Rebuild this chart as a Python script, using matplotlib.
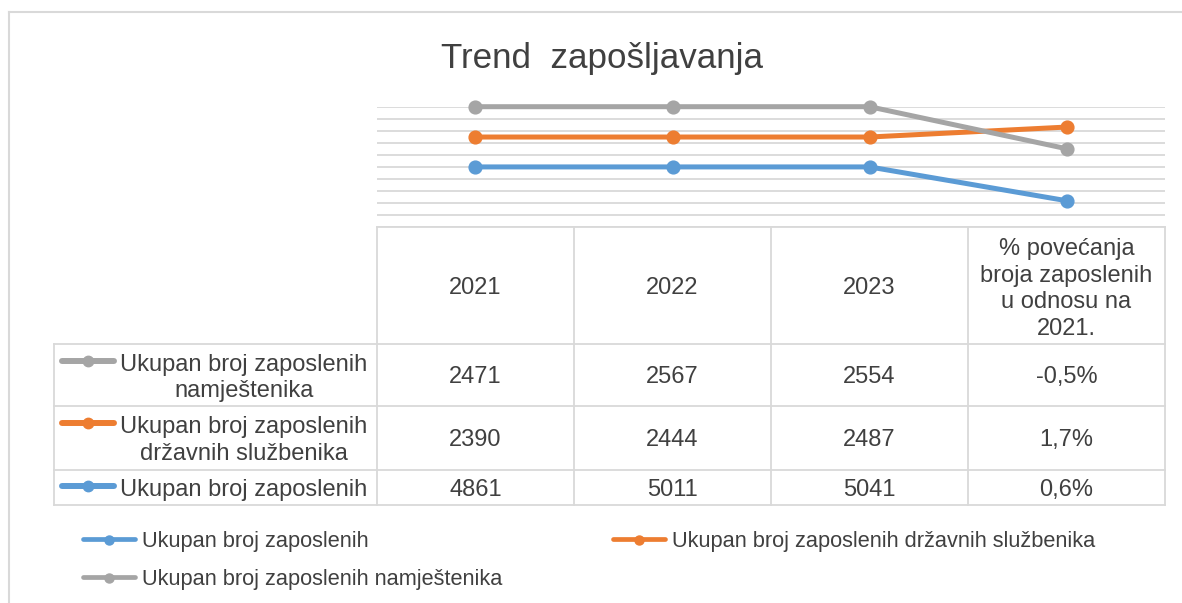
import matplotlib
matplotlib.use('Agg')
import matplotlib.pyplot as plt
import numpy as np

plt.rcParams['font.family'] = ['Liberation Sans', 'DejaVu Sans']

# table data
years = ['2021', '2022', '2023']
namjestenici = [2471, 2567, 2554]
sluzbenici = [2390, 2444, 2487]
ukupno = [4861, 5011, 5041]
pct_namj = -0.5
pct_sluzb = 1.7
pct_ukupno = 0.6

# plotted heights (hidden axis, stacked)
plot_ukupno = [1.38, 1.38, 1.38, 0.6]
plot_sluzb = [0.69, 0.69, 0.69, 1.7]
plot_namj = [0.70, 0.70, 0.70, -0.5]

blue = '#5B9BD5'
orange = '#ED7D31'
gray = '#A5A5A5'
grid_c = '#D9D9D9'
txt_c = '#404040'

W, H = 1182, 603
fig = plt.figure(figsize=(W / 100, H / 100), dpi=100)

# background axes in pixel coords
bg = fig.add_axes([0, 0, 1, 1])
bg.set_xlim(0, W)
bg.set_ylim(H, 0)
bg.axis('off')

# chart border
bg.plot([9, W], [12, 12], color=grid_c, lw=1.5)
bg.plot([9, 9], [12, H], color=grid_c, lw=1.5)

bg.text(602, 68, 'Trend  zapošljavanja', fontsize=25.2, color=txt_c,
        ha='center', va='baseline')

# line chart area
x0, x1 = 377, 1165
y_top, y_bot = 106.7, 226.7
ax = fig.add_axes([x0 / W, (H - y_bot) / H, (x1 - x0) / W, (y_bot - y_top) / H])
ymax = 2.77
ax.set_xlim(-0.5, 3.5)
ax.set_ylim(0, ymax)
ax.set_yticks(np.linspace(0, ymax, 11))
ax.grid(axis='y', color=grid_c, lw=1.3)
ax.set_axisbelow(True)
ax.tick_params(left=False, bottom=False, labelleft=False, labelbottom=False)
for s in ax.spines.values():
    s.set_visible(False)
ax.patch.set_alpha(0)

stack = np.cumsum([plot_ukupno, plot_sluzb, plot_namj], axis=0)
xs = np.arange(4)
for vals, c in zip(stack, [blue, orange, gray]):
    ax.plot(xs, vals, color=c, lw=3.6, marker='o', markersize=9.2,
            solid_capstyle='round', clip_on=False)

# data table
edges = np.linspace(x0, x1, 5)
rows = [227, 344, 406, 470, 505]
tl = 54
lw_t = 1.3
bg.plot([x0, x1], [rows[0], rows[0]], color=grid_c, lw=lw_t)
for y in rows[1:]:
    bg.plot([tl, x1], [y, y], color=grid_c, lw=lw_t)
bg.plot([tl, tl], [rows[1], rows[-1]], color=grid_c, lw=lw_t)
for x in edges:
    bg.plot([x, x], [rows[0], rows[-1]], color=grid_c, lw=lw_t)

centers = (edges[:-1] + edges[1:]) / 2
fs = 17
cap = 8.4
hy = (rows[0] + rows[1]) / 2
for cx, yr in zip(centers[:3], years):
    bg.text(cx, hy + cap, yr, fontsize=fs, color=txt_c, ha='center', va='baseline')
hdr = ['% povećanja', 'broja zaposlenih', 'u odnosu na', '2021.']
for i, line in enumerate(hdr):
    bg.text(centers[3], 255 + i * 26.7, line, fontsize=fs, color=txt_c,
            ha='center', va='baseline')

def fmt_pct(v):
    return f'{v:.1f}%'.replace('.', ',')

table_rows = [
    (namjestenici, pct_namj, gray, ['Ukupan broj zaposlenih', 'namještenika']),
    (sluzbenici, pct_sluzb, orange, ['Ukupan broj zaposlenih', 'državnih službenika']),
    (ukupno, pct_ukupno, blue, ['Ukupan broj zaposlenih']),
]
for r, (vals, pct, c, label) in enumerate(table_rows):
    ry0, ry1 = rows[r + 1], rows[r + 2]
    cy = (ry0 + ry1) / 2
    for cx, v in zip(centers[:3], vals):
        bg.text(cx, cy + cap, str(v), fontsize=fs, color=txt_c, ha='center', va='baseline')
    bg.text(centers[3], cy + cap, fmt_pct(pct), fontsize=fs, color=txt_c,
            ha='center', va='baseline')
    if len(label) == 2:
        base = ry0 + 27
    else:
        base = cy + cap
    for k, line in enumerate(label):
        bg.text(244, base + k * 26.5, line, fontsize=fs, color=txt_c,
                ha='center', va='baseline')
    ky = base - 10
    bg.plot([62, 114], [ky, ky], color=c, lw=4.3, solid_capstyle='round')
    bg.plot([88], [ky], 'o', color=c, markersize=7.5)

# legend
leg = [
    (81, 539, blue, 'Ukupan broj zaposlenih'),
    (611, 539, orange, 'Ukupan broj zaposlenih državnih službenika'),
    (81, 577, gray, 'Ukupan broj zaposlenih namještenika'),
]
for lx, ly, c, lab in leg:
    bg.plot([lx + 2, lx + 54], [ly, ly], color=c, lw=3.4, solid_capstyle='round')
    bg.plot([lx + 28], [ly + 1], 'o', color=c, markersize=6.5)
    bg.text(lx + 61, ly + 8.5, lab, fontsize=15.7, color=txt_c, ha='left', va='baseline')

fig.savefig('out.png', dpi=100)
